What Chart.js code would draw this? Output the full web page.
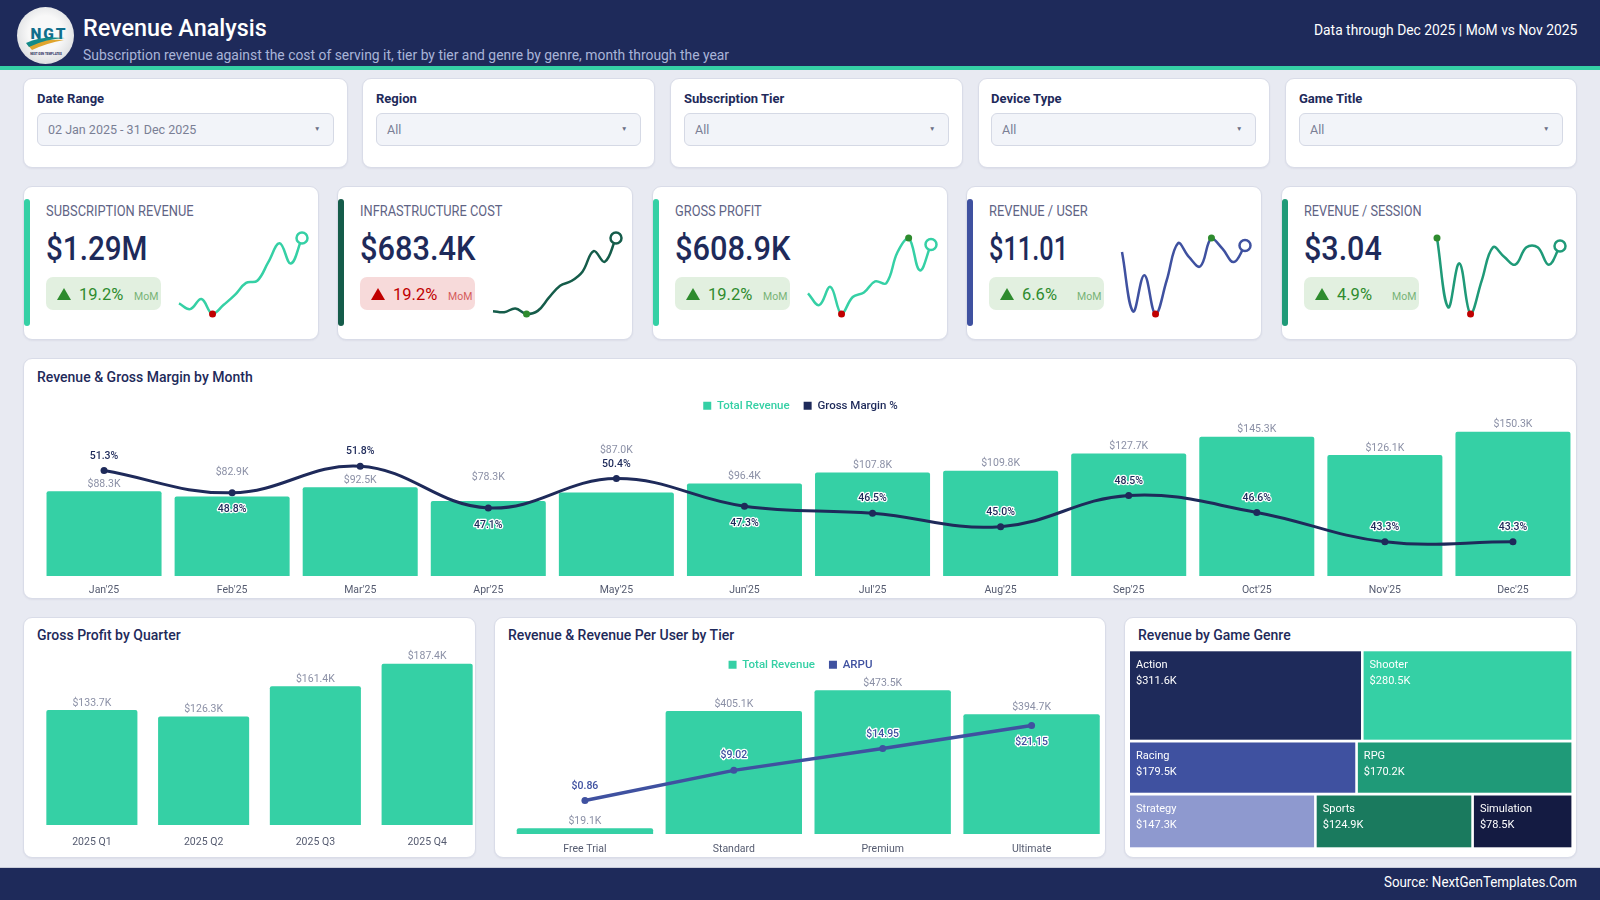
<!DOCTYPE html>
<html><head><meta charset="utf-8"><title>Revenue Analysis</title>
<script src="https://cdn.jsdelivr.net/npm/chart.js@4/dist/chart.umd.js"></script>
<style>
*{box-sizing:border-box}
html,body{margin:0;padding:0;width:1600px;height:900px;overflow:hidden;background:#e8eaf2;font-family:Roboto,"Noto Sans",sans-serif;color:#1e2a5a}
.abs,.card,canvas{position:absolute}
.card{background:#fff;border:1px solid #d9dce8;border-radius:9px;box-shadow:0 1px 2px rgba(30,42,90,.06)}
#hdr{position:absolute;left:0;top:0;width:1600px;height:70px;background:#1e2a5a;border-bottom:4px solid #35d0a5}
#ftr{position:absolute;left:0;top:867px;width:1600px;height:33px;background:#1e2a5a;border-top:1px solid #c9cdd9}
.t{position:absolute;white-space:nowrap;line-height:1;transform:translateY(-50%)}
.sel{position:absolute;top:113px;height:33px;background:#f2f4f9;border:1.5px solid #d5d9e5;border-radius:6px}
.ctitle{font-size:14px;font-weight:500;color:#1e2a5a}
</style></head><body>
<div id="hdr"></div><div id="ftr"></div>
<div id="root"></div>
<script>
const months=["Jan'25","Feb'25","Mar'25","Apr'25","May'25","Jun'25","Jul'25","Aug'25","Sep'25","Oct'25","Nov'25","Dec'25"];
const revenueK=[88.3,82.9,92.5,78.3,87.0,96.4,107.8,109.8,127.7,145.3,126.1,150.3];
const marginPct=[51.3,48.8,51.8,47.1,50.4,47.3,46.5,45.0,48.5,46.6,43.3,43.3];
const marginSide=['up','down','up','down','up','down','up','up','up','up','up','up'];
const revenueLabelLift=[0,17,0,17,35,0,0,0,0,0,0,0];
const quarters=['2025 Q1','2025 Q2','2025 Q3','2025 Q4'];
const quarterProfitK=[133.7,126.3,161.4,187.4];
const tiers=['Free Trial','Standard','Premium','Ultimate'];
const tierRevenueK=[19.1,405.1,473.5,394.7];
const tierArpu=[0.86,9.02,14.95,21.15];
const arpuSide=['up','up','up','down'];
const genreNames=['Action','Shooter','Racing','RPG','Strategy','Sports','Simulation'];
const genreValuesK=[311.6,280.5,179.5,170.2,147.3,124.9,78.5];
const genreRowSizes=[2,2,3];
const genreColors=['#1e2a5a','#35d0a5','#3f51a0','#1f9a78','#8e99cf','#1a7a5e','#141b42'];
const sparkCostK=[43.0,42.4,44.6,41.4,43.2,50.8,57.7,60.4,65.8,77.6,71.5,85.2];
const sparkProfitK=[45.3,40.5,47.9,36.9,43.8,45.6,50.1,49.4,61.9,67.7,54.6,65.1];
const sparkRevUser=[10.74,8.29,9.79,8.19,9.58,11.10,10.53,10.15,11.32,10.87,10.33,11.01];
const sparkRevSession=[3.10,2.58,2.91,2.53,2.78,3.03,2.96,2.90,3.03,3.03,2.90,3.04];
const filterNames=['Date Range','Region','Subscription Tier','Device Type','Game Title'];
const filterValues=['02 Jan 2025 - 31 Dec 2025','All','All','All','All'];
const kpiNames=['SUBSCRIPTION REVENUE','INFRASTRUCTURE COST','GROSS PROFIT','REVENUE / USER','REVENUE / SESSION'];
const kpiValues=['$1.29M','$683.4K','$608.9K','$11.01','$3.04'];
const kpiChanges=['19.2%','19.2%','19.2%','6.6%','4.9%'];

const FONT='Roboto, "Noto Sans", sans-serif';
const NAVY='#1e2a5a',TEAL='#35d0a5',INDIGO='#3f51a0',GREY='#8b90a6',RED='#c00000',GREEN='#2e8b2e';
Chart.defaults.font.family=FONT;Chart.defaults.animation=false;Chart.defaults.responsive=false;
const root=document.getElementById('root');
function el(cls,style,html){const d=document.createElement('div');d.className=cls;d.style.cssText=style;if(html!=null)d.innerHTML=html;root.appendChild(d);return d;}
function txt(x,y,s,css,right){return el('t',(right?`right:${1600-x}px;`:`left:${x}px;`)+`top:${y}px;`+css,s);}
function fit(d,w,right){d.style.transformOrigin=right?'right center':'left center';d.style.transform=`translateY(-50%) scaleX(${w/d.offsetWidth})`;return d;}
function cv(x,y,w,h){const c=document.createElement('canvas');c.width=w;c.height=h;c.style.cssText=`left:${x}px;top:${y}px;width:${w}px;height:${h}px`;root.appendChild(c);return c;}
function card(x,y,w,h){return el('card',`left:${x-1}px;top:${y-1}px;width:${w+2}px;height:${h+2}px`);}

/* header */
el('abs','left:17px;top:7px;width:57px;height:57px;border-radius:50%;background:radial-gradient(circle at 50% 45%,#f8f8f8 40%,#c9ccd0 100%);overflow:hidden',
`<svg width="57" height="57" viewBox="0 0 57 57"><text x="32" y="32" text-anchor="middle" font-family="Roboto" font-weight="900" font-size="15.5" letter-spacing="2" fill="#0f6e8c">NGT</text><path d="M10 37 Q26 32 47 33 Q30 36 15 43 Z" fill="#e0a52e"/><path d="M9 36 Q24 29 48 31 Q28 32 12 40 Z" fill="#138a8a"/><text x="29" y="48" text-anchor="middle" font-family="Roboto" font-weight="700" font-size="3" fill="#1e2a5a">NEXT GEN TEMPLATES</text></svg>`);
fit(txt(83,28,'Revenue Analysis','font-size:24px;font-weight:500;color:#fff'),184);
fit(txt(83,55,'Subscription revenue against the cost of serving it, tier by tier and genre by genre, month through the year','font-size:14px;color:#a9b4d8'),646);
fit(txt(1577,30,'Data through Dec 2025 | MoM vs Nov 2025','font-size:14px;color:#fff',true),263,true);
fit(txt(1577,882,'Source: NextGenTemplates.Com','font-size:15px;color:#fff',true),193,true);

/* filters */
const fCards=[[24,323],[363,291],[671,291],[979,290],[1286,290]];
const fSel=[[37,297],[376,265],[684,265],[991,265],[1299,264]];
filterNames.forEach((n,i)=>{
 card(fCards[i][0],79,fCards[i][1],88);
 txt(fSel[i][0],98,n,'font-size:13px;font-weight:700;color:#1e2a5a');
 el('sel',`left:${fSel[i][0]}px;width:${fSel[i][1]}px`);
 txt(fSel[i][0]+11,130,filterValues[i],'font-size:12.5px;color:#7a7f95');
 txt(fSel[i][0]+fSel[i][1]-20,129,'▼','font-size:6.5px;color:#6a6f85');
});

/* KPI cards */
const kpiX=[24,338,653,967,1282];
const kpiAccent=[TEAL,'#155c4a',TEAL,INDIGO,'#1f9a78'];
const kpiBad=[false,true,false,false,false];
const kpiSpark=[revenueK,sparkCostK,sparkProfitK,sparkRevUser,sparkRevSession];
const kpiLabelW=[148,142,87,98.5,118];
const kpiValueW=[101,116,116,79,78];
kpiNames.forEach((n,i)=>{
 const x=kpiX[i],bad=kpiBad[i],col=bad?RED:GREEN;
 card(x,187,294,152);
 el('abs',`left:${x}px;top:199px;width:6px;height:127px;border-radius:3px;background:${kpiAccent[i]}`);
 fit(txt(x+22,211,n,'font-size:14px;color:#5f6485'),kpiLabelW[i]);
 fit(txt(x+22,248,kpiValues[i],'font-size:34px;font-weight:500;color:#1e2a5a'),kpiValueW[i]);
 el('abs',`left:${x+22}px;top:277px;width:115px;height:33px;border-radius:7px;background:${bad?'#f7dada':'#e2f0e0'}`);
 el('abs',`left:${x+33}px;top:288px;width:0;height:0;border-left:7px solid transparent;border-right:7px solid transparent;border-bottom:12px solid ${col}`);
 txt(x+55,295,kpiChanges[i],`font-size:16.5px;color:${col}`);
 txt(x+110,297,'MoM',`font-size:10.5px;color:${col};opacity:.6`);
 const d=kpiSpark[i],lo=Math.min(...d),hi=Math.max(...d),iLo=d.indexOf(lo),iHi=d.indexOf(hi),last=d.length-1;
 const loC=bad?GREEN:RED;
 new Chart(cv(x+145,228,143,96),{type:'line',data:{labels:months,datasets:[{data:d,borderColor:kpiAccent[i],borderWidth:2.5,tension:.4,
   pointRadius:c=>c.dataIndex===last?5.5:(c.dataIndex===iLo||c.dataIndex===iHi)?3.5:0,
   pointBackgroundColor:c=>c.dataIndex===last?'#fff':c.dataIndex===iLo?loC:GREEN,
   pointBorderColor:c=>c.dataIndex===last?kpiAccent[i]:c.dataIndex===iLo?loC:GREEN,
   pointBorderWidth:c=>c.dataIndex===last?2.5:0,clip:false}]},
  options:{layout:{autoPadding:false,padding:{left:10,right:10,top:10,bottom:10}},plugins:{legend:{display:false},tooltip:{enabled:false}},
   scales:{x:{display:false},y:{display:false,min:lo,max:hi}}}});
});

/* chart cards */
card(24,359,1552,239);
txt(37,377,'Revenue &amp; Gross Margin by Month','');root.lastChild.className='t ctitle';
card(24,618,451,239);
txt(37,635,'Gross Profit by Quarter','');root.lastChild.className='t ctitle';
card(495,618,610,239);
txt(508,635,'Revenue &amp; Revenue Per User by Tier','');root.lastChild.className='t ctitle';
card(1125,618,451,239);
txt(1138,635,'Revenue by Game Genre','');root.lastChild.className='t ctitle';

const money=v=>'$'+v.toFixed(1)+'K';
function labelPlugin(o){return {id:'labels',afterDatasetsDraw(ch){
 const g=ch.ctx;g.save();g.textAlign='center';g.textBaseline='middle';
 if(o.bar!=null){const m=ch.getDatasetMeta(o.bar);g.font='10.5px '+FONT;g.fillStyle=GREY;
  m.data.forEach((b,i)=>g.fillText(money(ch.data.datasets[o.bar].data[i]),b.x,b.y-7-(o.lift?o.lift[i]:0)));}
 if(o.line!=null){const m=ch.getDatasetMeta(o.line);g.font='500 10.5px '+FONT;g.lineJoin='round';
  m.data.forEach((p,i)=>{const s=o.fmt(ch.data.datasets[o.line].data[i]),y=p.y+(o.side[i]==='up'?-14.5:17);
   g.lineWidth=2.5;g.strokeStyle='#fff';g.strokeText(s,p.x,y);g.fillStyle=o.color;g.fillText(s,p.x,y);});}
 g.restore();}};}
const legendOpts={display:true,position:'top',labels:{boxWidth:8,boxHeight:8,padding:14,font:{size:11.5,weight:'500'},
 generateLabels(ch){return Chart.defaults.plugins.legend.labels.generateLabels(ch).sort((a,b)=>a.datasetIndex-b.datasetIndex).map(it=>{it.fontColor=it.fillStyle;it.lineWidth=0;return it;});}}};
const xAxis=(h,pad)=>({grid:{display:false,drawTicks:false},border:{display:false},ticks:{padding:pad,color:'#555b70',font:{size:10.5},maxRotation:0,autoSkip:false},afterFit(s){s.height=h;}});
const leftGutter=w=>({position:'left',grid:{display:false,drawTicks:false},border:{display:false},ticks:{display:false},afterFit(s){s.width=w;}});

new Chart(cv(24,386,1553,212),{data:{labels:months,datasets:[
  {type:'bar',label:'Total Revenue',data:revenueK,backgroundColor:TEAL,borderRadius:2,categoryPercentage:1,barPercentage:.898,yAxisID:'y',order:2},
  {type:'line',label:'Gross Margin %',data:marginPct,borderColor:NAVY,backgroundColor:NAVY,borderWidth:3,tension:.4,pointRadius:3.5,pointBorderWidth:0,pointBackgroundColor:NAVY,yAxisID:'y2',order:1}]},
 options:{layout:{autoPadding:false},plugins:{legend:legendOpts,tooltip:{enabled:false}},
  scales:{x:xAxis(22,8),y:Object.assign(leftGutter(16),{min:0,max:161.1}),y2:{display:false,min:39.45,max:56.82}}},
 plugins:[labelPlugin({bar:0,lift:revenueLabelLift,line:1,side:marginSide,color:NAVY,fmt:v=>v.toFixed(1)+'%'})]});

new Chart(cv(24,645,459,212),{type:'bar',data:{labels:quarters,datasets:[
  {label:'Gross Profit',data:quarterProfitK,backgroundColor:TEAL,borderRadius:2,categoryPercentage:1,barPercentage:.815}]},
 options:{layout:{autoPadding:false},plugins:{legend:{display:false},tooltip:{enabled:false}},
  scales:{x:xAxis(32,11),y:Object.assign(leftGutter(12),{min:0,max:209.3})}},
 plugins:[labelPlugin({bar:0})]});

new Chart(cv(495,645,611,212),{data:{labels:tiers,datasets:[
  {type:'bar',label:'Total Revenue',data:tierRevenueK,backgroundColor:TEAL,borderRadius:2,categoryPercentage:1,barPercentage:.916,yAxisID:'y',order:2},
  {type:'line',label:'ARPU',data:tierArpu,borderColor:INDIGO,backgroundColor:INDIGO,borderWidth:3.5,tension:0,pointRadius:3.5,pointBorderWidth:0,pointBackgroundColor:INDIGO,yAxisID:'y2',order:1}]},
 options:{layout:{autoPadding:false},plugins:{legend:legendOpts,tooltip:{enabled:false}},
  scales:{x:xAxis(23,9),y:Object.assign(leftGutter(15.5),{min:0,max:505.5}),y2:{display:false,min:-8.18,max:33.3}}},
 plugins:[labelPlugin({bar:0,line:1,side:arpuSide,color:INDIGO,fmt:v=>'$'+v.toFixed(2)})]});

/* treemap: rows of cells sized from the genre values, positioned through the chart's own scales */
const total=genreValuesK.reduce((a,b)=>a+b,0);
const cells=[];let idx=0,yTop=0;
genreRowSizes.forEach(n=>{const rowVals=genreValuesK.slice(idx,idx+n),sum=rowVals.reduce((a,b)=>a+b,0);let xl=0;
 rowVals.forEach((v,k)=>{const w=v/sum;cells.push({x0:xl,x1:xl+w,y0:yTop,y1:yTop+sum/total,i:idx+k});xl+=w;});
 yTop+=sum/total;idx+=n;});
const treemapPlugin={id:'treemap',afterDatasetsDraw(ch){const g=ch.ctx,X=ch.scales.x,Y=ch.scales.y;g.save();g.textBaseline='middle';g.textAlign='left';
 cells.forEach(c=>{const x0=X.getPixelForValue(c.x0),x1=X.getPixelForValue(c.x1),y0=Y.getPixelForValue(c.y0),y1=Y.getPixelForValue(c.y1);
  const inL=c.x0>0?1.3:0,inR=c.x1<0.999?1.3:0,inT=c.y0>0?1.4:0,inB=c.y1<0.999?1.4:0;
  g.fillStyle=genreColors[c.i];g.fillRect(x0+inL,y0+inT,x1-x0-inL-inR,y1-y0-inT-inB);
  g.fillStyle='#fff';g.font='11px '+FONT;g.fillText(genreNames[c.i],x0+inL+6,y0+inT+14);g.fillText(money(genreValuesK[c.i]),x0+inL+6,y0+inT+29.5);});
 g.restore();}};
new Chart(cv(1125,645,451,210),{type:'scatter',data:{datasets:[{data:cells.map(c=>({x:(c.x0+c.x1)/2,y:(c.y0+c.y1)/2})),pointRadius:0}]},
 options:{layout:{autoPadding:false,padding:{left:5,right:4.6,top:6.3,bottom:7.7}},plugins:{legend:{display:false},tooltip:{enabled:false}},
  scales:{x:{display:false,min:0,max:1},y:{display:false,min:0,max:1,reverse:true}}},plugins:[treemapPlugin]});
</script></body></html>
